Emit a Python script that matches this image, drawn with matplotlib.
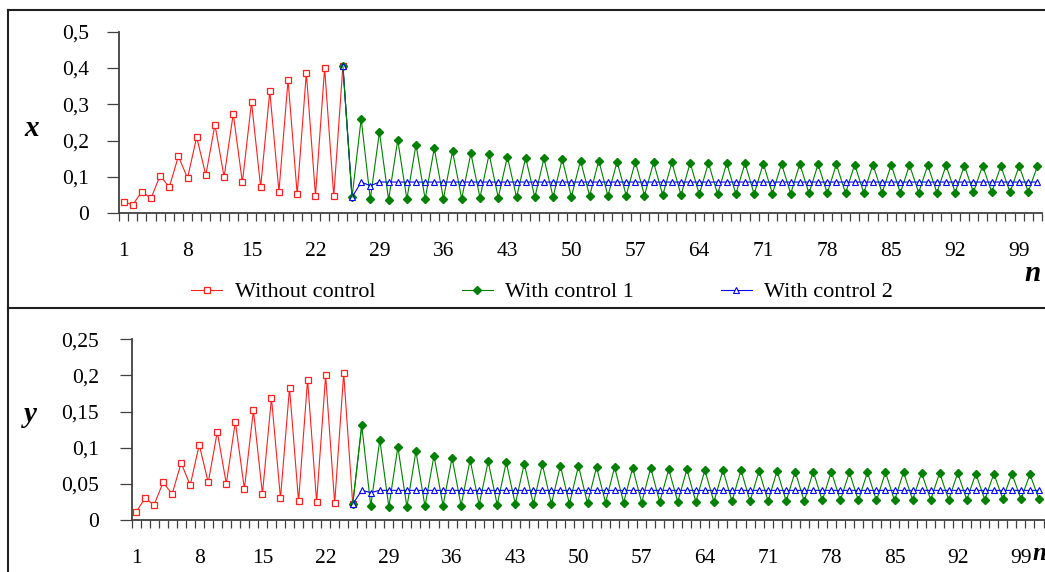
import numpy as np
import matplotlib
matplotlib.use('Agg')
import matplotlib.pyplot as plt
from matplotlib.lines import Line2D

plt.rcParams['font.family'] = ['Liberation Serif', 'DejaVu Serif']

W, H = 1045, 572

# x panel, n = 1..25 without control
x_without = [0.032, 0.023, 0.060, 0.041, 0.104, 0.072, 0.157, 0.097, 0.210, 0.105,
             0.244, 0.100, 0.274, 0.085, 0.306, 0.072, 0.336, 0.060, 0.367, 0.052,
             0.387, 0.048, 0.400, 0.047, 0.406]

# x panel, n = 25..101 with control 1
x_control1 = [0.406, 0.044, 0.260, 0.039, 0.224, 0.037, 0.202, 0.039, 0.189, 0.039,
              0.179, 0.040, 0.171, 0.040, 0.165, 0.043, 0.163, 0.043, 0.156, 0.044,
              0.153, 0.044, 0.151, 0.045, 0.149, 0.045, 0.145, 0.048, 0.145, 0.048,
              0.142, 0.049, 0.142, 0.049, 0.140, 0.050, 0.140, 0.050, 0.139, 0.052,
              0.139, 0.052, 0.138, 0.053, 0.138, 0.053, 0.137, 0.054, 0.136, 0.054,
              0.136, 0.055, 0.135, 0.055, 0.135, 0.055, 0.134, 0.056, 0.134, 0.056,
              0.133, 0.056, 0.133, 0.057, 0.132, 0.057, 0.132, 0.057, 0.131, 0.058,
              0.131, 0.058, 0.130, 0.058, 0.130, 0.059, 0.130]

# x panel, n = 25..101 with control 2
x_control2 = [0.406, 0.044, 0.086, 0.076, 0.086, 0.086, 0.086, 0.086, 0.086, 0.086,
              0.086, 0.086, 0.086, 0.086, 0.086, 0.086, 0.086, 0.086, 0.086, 0.086,
              0.086, 0.086, 0.086, 0.086, 0.086, 0.086, 0.086, 0.086, 0.086, 0.086,
              0.086, 0.086, 0.086, 0.086, 0.086, 0.086, 0.086, 0.086, 0.086, 0.086,
              0.086, 0.086, 0.086, 0.086, 0.086, 0.086, 0.086, 0.086, 0.086, 0.086,
              0.086, 0.086, 0.086, 0.086, 0.086, 0.086, 0.086, 0.086, 0.086, 0.086,
              0.086, 0.086, 0.086, 0.086, 0.086, 0.086, 0.086, 0.086, 0.086, 0.086,
              0.086, 0.086, 0.086, 0.086, 0.086, 0.086, 0.086]

# y panel, n = 1..25 without control
y_without = [0.011, 0.030, 0.021, 0.052, 0.036, 0.079, 0.048, 0.104, 0.052, 0.122,
             0.050, 0.136, 0.043, 0.152, 0.036, 0.169, 0.030, 0.183, 0.026, 0.194,
             0.025, 0.200, 0.023, 0.203, 0.022]

# y panel, n = 25..101 with control 1
y_control1 = [0.022, 0.131, 0.019, 0.111, 0.018, 0.101, 0.018, 0.095, 0.019, 0.089,
              0.020, 0.086, 0.020, 0.083, 0.021, 0.081, 0.021, 0.080, 0.022, 0.078,
              0.022, 0.077, 0.022, 0.075, 0.022, 0.075, 0.023, 0.073, 0.024, 0.073,
              0.024, 0.072, 0.024, 0.072, 0.025, 0.070, 0.025, 0.070, 0.025, 0.069,
              0.025, 0.069, 0.026, 0.069, 0.026, 0.068, 0.026, 0.068, 0.026, 0.067,
              0.026, 0.067, 0.027, 0.067, 0.027, 0.066, 0.027, 0.066, 0.027, 0.066,
              0.027, 0.066, 0.028, 0.065, 0.028, 0.065, 0.028, 0.065, 0.028, 0.064,
              0.028, 0.064, 0.029, 0.064, 0.029, 0.063, 0.029]

# y panel, n = 25..101 with control 2
y_control2 = [0.022, 0.041, 0.038, 0.041, 0.041, 0.041, 0.041, 0.041, 0.041, 0.041,
              0.041, 0.041, 0.041, 0.041, 0.041, 0.041, 0.041, 0.041, 0.041, 0.041,
              0.041, 0.041, 0.041, 0.041, 0.041, 0.041, 0.041, 0.041, 0.041, 0.041,
              0.041, 0.041, 0.041, 0.041, 0.041, 0.041, 0.041, 0.041, 0.041, 0.041,
              0.041, 0.041, 0.041, 0.041, 0.041, 0.041, 0.041, 0.041, 0.041, 0.041,
              0.041, 0.041, 0.041, 0.041, 0.041, 0.041, 0.041, 0.041, 0.041, 0.041,
              0.041, 0.041, 0.041, 0.041, 0.041, 0.041, 0.041, 0.041, 0.041, 0.041,
              0.041, 0.041, 0.041, 0.041, 0.041, 0.041, 0.041]

n_labels = [1, 8, 15, 22, 29, 36, 43, 50, 57, 64, 71, 78, 85, 92, 99]
x_ticks = [0, 0.1, 0.2, 0.3, 0.4, 0.5]
x_ticklabels = ['0', '0,1', '0,2', '0,3', '0,4', '0,5']
y_ticks = [0, 0.05, 0.1, 0.15, 0.2, 0.25]
y_ticklabels = ['0', '0,05', '0,1', '0,15', '0,2', '0,25']

n_without = np.arange(1, len(x_without) + 1)
n_control = np.arange(25, 25 + len(x_control1))

AXIS_COLOR = '#404040'


def px_rect(left, right, bottom, top):
    """Axes rectangle in figure fractions from pixel edges."""
    return [left / W, 1 - bottom / H, (right - left) / W, (bottom - top) / H]


def draw_panel(ax, without, ctrl1, ctrl2, yticks, yticklabels, ypad):
    ax.plot(n_without, without, color='#ff2020', lw=0.8, marker='s', ms=5,
            mfc='white', mec='#ff2020', mew=0.9, label='Without control')
    ax.plot(n_control, ctrl2, color='#0000ff', lw=0.8, marker='^', ms=4.5,
            mfc='white', mec='#0000ff', mew=0.8, label='With control 2', zorder=3)
    # green drawn on top so the first controlled step shows in green
    ax.plot(n_control[:2], ctrl1[:2], color='#008000', lw=0.8, zorder=4)
    ax.plot(n_control, ctrl1, color='#008000', lw=0.8, marker='D', ms=3.6,
            mfc='#008000', mec='#008000', label='With control 1', zorder=2)

    ax.set_xlim(0.5, 101.5)
    ax.set_ylim(yticks[0], yticks[-1])
    ax.set_yticks(yticks)
    ax.set_yticklabels(yticklabels)
    ax.set_xticks(n_labels)
    ax.set_xticklabels([str(v) for v in n_labels])
    ax.set_xticks(np.arange(0.5, 102, 1.0), minor=True)

    for side in ['top', 'right']:
        ax.spines[side].set_visible(False)
    for side in ['left', 'bottom']:
        ax.spines[side].set_color(AXIS_COLOR)
        ax.spines[side].set_linewidth(1.3)

    ax.tick_params(axis='x', which='major', length=0, pad=21, labelsize=15.5)
    ax.tick_params(axis='x', which='minor', direction='out', length=5.8,
                   width=0.9, color=AXIS_COLOR)
    ax.tick_params(axis='y', which='major', direction='out', length=8.5,
                   width=0.9, color=AXIS_COLOR, pad=ypad, labelsize=15.5)
    ax.patch.set_visible(False)


fig = plt.figure(figsize=(W / 100, H / 100), dpi=100)

ax_top = fig.add_axes(px_rect(119, 1042, 213.3, 31.7))
draw_panel(ax_top, x_without, x_control1, x_control2, x_ticks, x_ticklabels, 13)

ax_bot = fig.add_axes(px_rect(131.5, 1043.5, 520, 339.3))
draw_panel(ax_bot, y_without, y_control1, y_control2, y_ticks, y_ticklabels, 15)

# legend between the panels, in the reference order
handles, labels = ax_top.get_legend_handles_labels()
order = [labels.index(t) for t in ['Without control', 'With control 1', 'With control 2']]
fig.legend([handles[i] for i in order], [labels[i] for i in order],
           loc='center', ncol=3, frameon=False,
           bbox_to_anchor=(542 / W, 1 - 292 / H), fontsize=16,
           handlelength=1.4, handletextpad=0.55, columnspacing=3.9,
           numpoints=1, borderpad=0)

# axis names
label_style = dict(fontsize=21, fontstyle='italic', fontweight='bold',
                   ha='center', va='center')
fig.text(32 / W, 1 - 128 / H, 'x', **label_style)
fig.text(30 / W, 1 - 414 / H, 'y', **label_style)
fig.text(1033 / W, 1 - 274 / H, 'n', **label_style)
label_style['fontsize'] = 18
fig.text(1039 / W, 1 - 554 / H, 'n', **label_style)

# panel frames
frame = dict(color='#202020', lw=1.5, transform=fig.transFigure)
fig.add_artist(Line2D([8 / W, 1], [1 - 10 / H, 1 - 10 / H], **frame))
fig.add_artist(Line2D([8 / W, 8 / W], [1 - 10 / H, 0], **frame))
fig.add_artist(Line2D([8 / W, 1], [1 - 308 / H, 1 - 308 / H], **frame))

fig.savefig('out.png', dpi=100)
